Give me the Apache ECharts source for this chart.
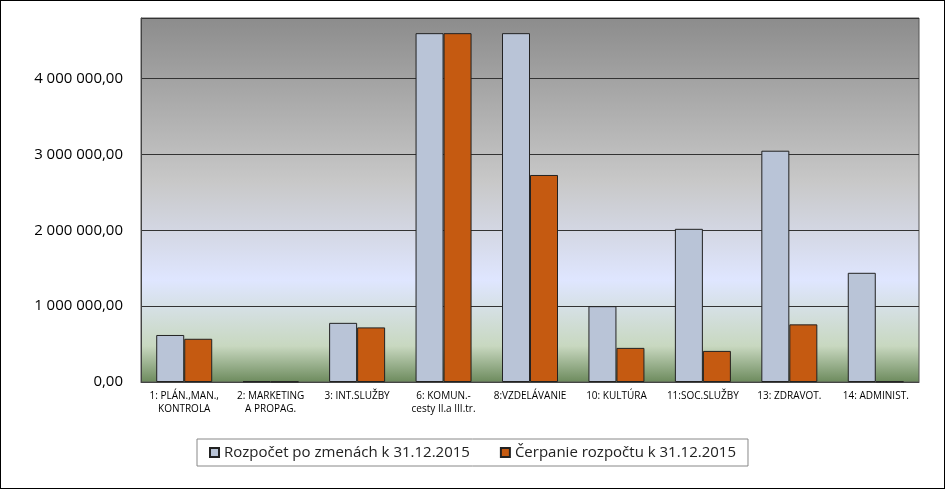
<!DOCTYPE html>
<html><head><meta charset="utf-8">
<script src="https://cdn.jsdelivr.net/npm/echarts@6/dist/echarts.min.js"></script>
<style>html,body{margin:0;padding:0;background:#fff}#c{width:943px;height:487px;border:1px solid #000}</style>
</head><body><div id="c"></div>
<script>
// kategórie a hodnoty
var categories = ['1: PLÁN.,MAN.,\nKONTROLA', '2: MARKETING\nA PROPAG.', '3: INT.SLUŽBY', '6: KOMUN.-\ncesty II.a III.tr.',
  '8:VZDELÁVANIE', '10: KULTÚRA', '11:SOC.SLUŽBY', '13: ZDRAVOT.', '14: ADMINIST.'];
var rozpocet = [620000, 10000, 780000, 4600000, 4600000, 1000000, 2020000, 3050000, 1440000];
var cerpanie = [570000, 5000, 720000, 4600000, 2730000, 450000, 410000, 760000, 8000];
var seriesNames = ['Rozpočet po zmenách k 31.12.2015', 'Čerpanie rozpočtu k 31.12.2015'];

function fmt(v) {
  var s = String(Math.round(v)).replace(/\B(?=(\d{3})+(?!\d))/g, ' ');
  return s + ',00';
}

var chart = echarts.init(document.getElementById('c'));
chart.setOption({
  textStyle: { fontFamily: 'Open Sans, Liberation Sans, Arial' },
  grid: {
    left: 140, right: 25, top: 17, bottom: 106, show: true, borderColor: '#555',
    backgroundColor: new echarts.graphic.LinearGradient(0, 0, 0, 1, [
      { offset: 0, color: '#8c8c8c' }, { offset: 0.45, color: '#c8c8c8' },
      { offset: 0.72, color: '#dfe6ff' }, { offset: 0.9, color: '#c8d8c0' }, { offset: 1, color: '#6c8a5c' }])
  },
  legend: {
    bottom: 22, left: 'center', data: seriesNames, icon: 'rect', itemWidth: 9, itemHeight: 9, itemGap: 30,
    borderColor: '#888', borderWidth: 1, padding: [6, 12],
    textStyle: { fontSize: 15, color: '#222' }
  },
  xAxis: {
    type: 'category', data: categories,
    axisLine: { lineStyle: { color: '#444' } }, axisTick: { show: false },
    axisLabel: { fontSize: 10, color: '#000', interval: 0, lineHeight: 13 }
  },
  yAxis: {
    type: 'value', min: 0, max: 4800000, interval: 1000000,
    axisLabel: { formatter: fmt, fontSize: 15, color: '#000', showMaxLabel: false, margin: 18 },
    splitLine: { lineStyle: { color: '#333' } },
    axisLine: { show: true, lineStyle: { color: '#444' } }
  },
  series: [
    { name: seriesNames[0], type: 'bar', data: rozpocet, barWidth: 28, barGap: '0%',
      itemStyle: { color: '#b9c4d7', borderColor: '#222', borderWidth: 1 } },
    { name: seriesNames[1], type: 'bar', data: cerpanie, barWidth: 28,
      itemStyle: { color: '#c55a11', borderColor: '#222', borderWidth: 1 } }
  ]
});
</script></body></html>
